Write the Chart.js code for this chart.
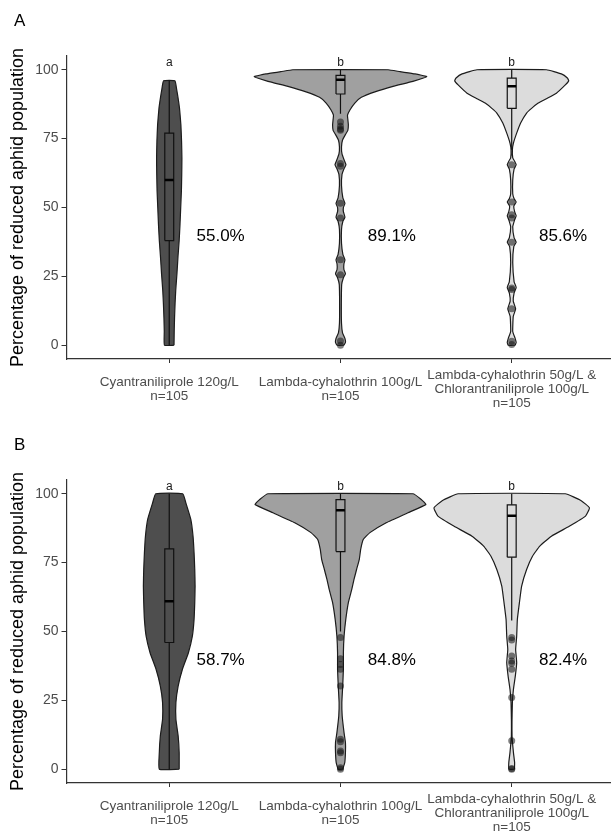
<!DOCTYPE html>
<html>
<head>
<meta charset="utf-8">
<script src="https://cdn.jsdelivr.net/npm/chart.js@4.4.0/dist/chart.umd.min.js"></script>
<style>
  html, body { margin: 0; padding: 0; background: #fff; overflow: hidden; }
  body { width: 614px; height: 832px; position: relative; }
  .panel { position: absolute; left: 0; width: 614px; height: 424px; }
</style>
</head>
<body>
<div class="panel" style="top:0"><canvas id="chartA" width="614" height="424"></canvas></div>
<div class="panel" style="top:424px"><canvas id="chartB" width="614" height="424"></canvas></div>
<script>
const FONT = "'Liberation Sans', Arial, Helvetica, sans-serif";

// categories + axis
const categoryLabels = [
  ['Cyantraniliprole 120g/L', 'n=105'],
  ['Lambda-cyhalothrin 100g/L', 'n=105'],
  ['Lambda-cyhalothrin 50g/L &', 'Chlorantraniliprole 100g/L', 'n=105']
];
const groupLetters = ['a', 'b', 'b'];
const yTickValues = [0, 25, 50, 75, 100];

// ---- panel A ----
// violin outline: y levels and half width (in category units)
const violinLevelsA = [
  [0, 5, 10, 15, 20, 26, 32, 38, 44, 50, 56, 62, 68, 74, 80, 86, 90, 93, 96],
  [0, 1, 2.5, 4.5, 8, 15, 22, 24.5, 26, 27.5, 29.5, 31, 33, 37, 42, 45, 46.5, 48.5, 50, 51.5, 53.5, 58, 62, 64, 65.5, 67, 69.5, 72, 74.5, 76.5, 78, 80, 82, 83.5, 85.5, 88, 90, 92, 94, 95.8, 97.5, 98.5, 99.3, 100],
  [0, 1, 2.5, 5, 10.5, 13.2, 16, 19, 21, 23, 30, 35.8, 37.4, 39, 43, 45.5, 47, 48.5, 50.5, 52, 53.2, 55, 60, 64, 65.5, 66.8, 68, 71, 73.4, 77, 80.7, 84.3, 86, 87.9, 89.5, 91.5, 94.5, 96, 97, 98.5, 100]
];
const violinWidthsA = [
  [0.028, 0.029, 0.031, 0.034, 0.038, 0.045, 0.051, 0.058, 0.063, 0.067, 0.071, 0.073, 0.074, 0.072, 0.068, 0.06, 0.051, 0.043, 0.033],
  [0.020, 0.029, 0.026, 0.012, 0.006, 0.005, 0.007, 0.017, 0.029, 0.020, 0.020, 0.026, 0.014, 0.006, 0.006, 0.014, 0.026, 0.017, 0.017, 0.026, 0.014, 0.006, 0.009, 0.020, 0.032, 0.023, 0.009, 0.006, 0.012, 0.029, 0.043, 0.046, 0.043, 0.041, 0.056, 0.085, 0.122, 0.201, 0.307, 0.423, 0.504, 0.435, 0.348, 0.278],
  [0.020, 0.026, 0.020, 0.006, 0.009, 0.023, 0.009, 0.014, 0.026, 0.014, 0.006, 0.012, 0.026, 0.014, 0.006, 0.017, 0.026, 0.017, 0.012, 0.026, 0.014, 0.006, 0.006, 0.014, 0.026, 0.017, 0.006, 0.004, 0.010, 0.029, 0.052, 0.087, 0.116, 0.155, 0.203, 0.261, 0.313, 0.333, 0.325, 0.29, 0.203]
];
const whiskerLowA = [0, 84, 71];
const q1A = [38, 91.2, 86];
const medianA = [60, 96.4, 94];
const q3A = [77, 98, 97];
const whiskerHighA = [96, 100, 100];
const outliersA = [
  [],
  [81, 79.5, 78.5, 78, 66, 65, 51.5, 46.2, 31, 25.6, 1.5, 0],
  [65.5, 52, 47.4, 46.2, 37.4, 20.8, 20.2, 13.2, 1.4, 0.3]
];
const percentA = ['55.0%', '89.1%', '85.6%'];

// ---- panel B ----
const violinLevelsB = [
  [0, 6.1, 12.1, 18.1, 24.2, 30.2, 36.3, 42.3, 48.3, 54.4, 60.5, 66.5, 72.5, 78.6, 84.6, 90.7, 96.7, 100],
  [0, 2.4, 6.1, 9.7, 13.2, 19.3, 24.2, 30.2, 36.3, 42.3, 48.3, 54.4, 60.5, 65.3, 68.9, 72.5, 76.2, 79.8, 83.4, 85.9, 89.5, 93.1, 96.1, 98, 100],
  [0, 2.4, 6.1, 12.1, 24.2, 29, 33.8, 38.7, 43.5, 48.3, 54.4, 60.5, 66.5, 72.5, 77.4, 81, 84.6, 88.2, 91.9, 94.9, 97.5, 100]
];
const violinWidthsB = [
  [0.058, 0.058, 0.052, 0.039, 0.039, 0.052, 0.077, 0.112, 0.135, 0.145, 0.149, 0.151, 0.149, 0.145, 0.139, 0.126, 0.097, 0.079],
  [0.013, 0.025, 0.029, 0.029, 0.021, 0.010, 0.008, 0.013, 0.017, 0.017, 0.021, 0.031, 0.046, 0.066, 0.079, 0.094, 0.110, 0.118, 0.133, 0.172, 0.267, 0.394, 0.499, 0.470, 0.423],
  [0.016, 0.017, 0.010, 0.002, 0.004, 0.010, 0.021, 0.029, 0.023, 0.029, 0.033, 0.045, 0.058, 0.087, 0.122, 0.164, 0.232, 0.336, 0.431, 0.454, 0.406, 0.313]
];
const whiskerLowB = [0, 50, 54];
const q1B = [46, 79, 77];
const medianB = [61, 94, 92];
const q3B = [80, 97.9, 96];
const whiskerHighB = [100, 100, 100];
const outliersB = [
  [],
  [47.8, 40.1, 38, 36.3, 30.2, 10.9, 10, 6.6, 6, 0.5, 0],
  [47.8, 46.9, 41.1, 39.3, 38.5, 36.3, 26, 10.3, 0.3, 0]
];
const percentB = ['58.7%', '84.8%', '82.4%'];

// styles
const fillColours = ['#4e4e4e', '#a0a0a0', '#dcdcdc'];
const outlineColour = '#1c1c1c';
const BOX_HALF = 0.026;
const LETTER_Y = 102.7;
const PCT_Y = 39.5;
const PCT_DX = 0.3;

function violinPolygon(pos, levels, widths) {
  const right = levels.map((y, i) => ({ x: pos + widths[i], y: y }));
  const left = levels.map((y, i) => ({ x: pos - widths[i], y: y })).reverse();
  return right.concat(left, [right[0]]);
}

function makeDatasets(p) {
  const sets = [];
  p.levels.forEach((levels, i) => {
    const pos = i + 1;
    sets.push({
      data: violinPolygon(pos, levels, p.widths[i]),
      showLine: true, fill: 'shape', tension: 0.12,
      backgroundColor: fillColours[i], borderColor: outlineColour, borderWidth: 1.2,
      pointRadius: 0, order: 5
    });
    // whisker
    sets.push({
      data: [{ x: pos, y: p.low[i] }, { x: pos, y: p.high[i] }],
      showLine: true, fill: false, borderColor: '#111', borderWidth: 1.2,
      pointRadius: 0, order: 4
    });
    // box
    sets.push({
      data: [
        { x: pos - BOX_HALF, y: p.q1[i] }, { x: pos + BOX_HALF, y: p.q1[i] },
        { x: pos + BOX_HALF, y: p.q3[i] }, { x: pos - BOX_HALF, y: p.q3[i] },
        { x: pos - BOX_HALF, y: p.q1[i] }
      ],
      showLine: true, fill: 'shape', tension: 0,
      backgroundColor: fillColours[i], borderColor: '#111', borderWidth: 1.2,
      pointRadius: 0, order: 3
    });
    // median
    sets.push({
      data: [{ x: pos - BOX_HALF, y: p.med[i] }, { x: pos + BOX_HALF, y: p.med[i] }],
      showLine: true, fill: false, borderColor: '#000', borderWidth: 2.4,
      pointRadius: 0, order: 2
    });
    // outliers
    sets.push({
      data: p.outliers[i].map(v => ({ x: pos, y: v })),
      showLine: false, pointRadius: 3.5, pointBorderWidth: 0,
      pointBackgroundColor: 'rgba(20,20,20,0.55)', order: 1
    });
  });
  return sets;
}

function annotations(percents, panelLetter) {
  return {
    id: 'annotations',
    afterDatasetsDraw(chart) {
      const { ctx } = chart;
      const x = chart.scales.x, y = chart.scales.y;
      ctx.save();
      ctx.textAlign = 'center';
      ctx.textBaseline = 'middle';
      ctx.fillStyle = '#1a1a1a';
      ctx.font = '12px ' + FONT;
      groupLetters.forEach((t, i) => {
        ctx.fillText(t, x.getPixelForValue(i + 1), y.getPixelForValue(LETTER_Y));
      });
      ctx.fillStyle = '#000';
      ctx.font = '17px ' + FONT;
      percents.forEach((t, i) => {
        ctx.fillText(t, x.getPixelForValue(i + 1 + PCT_DX), y.getPixelForValue(PCT_Y));
      });
      ctx.textAlign = 'left';
      ctx.fillText(panelLetter, 14, 21);
      ctx.restore();
    }
  };
}

function makeChart(id, p, percents, panelLetter) {
  return new Chart(document.getElementById(id), {
    type: 'scatter',
    data: { datasets: makeDatasets(p) },
    options: {
      responsive: false,
      animation: false,
      events: [],
      layout: { padding: { top: 56, left: 0, right: 0, bottom: 0 } },
      plugins: { legend: { display: false }, tooltip: { enabled: false } },
      scales: {
        x: {
          type: 'linear', min: 0.4, max: 3.574,
          afterBuildTicks: s => { s.ticks = categoryLabels.map((c, i) => ({ value: i + 1 })); },
          afterFit: s => { s.height = 65; },
          ticks: {
            autoSkip: false, maxRotation: 0, crossAlign: 'center', padding: 12,
            color: '#4d4d4d', font: { family: FONT, size: 13.5, lineHeight: 1.05 },
            callback: v => categoryLabels[Math.round(v) - 1]
          },
          grid: { display: true, drawOnChartArea: false, drawTicks: true, tickLength: 4, color: '#333' },
          border: { display: true, color: '#333', width: 1.2 }
        },
        y: {
          type: 'linear', min: -5, max: 105,
          afterBuildTicks: s => { s.ticks = yTickValues.map(v => ({ value: v })); },
          afterFit: s => { s.width = 66.5; },
          ticks: { padding: 3, color: '#4d4d4d', font: { family: FONT, size: 14 } },
          grid: { display: true, drawOnChartArea: false, drawTicks: true, tickLength: 5, color: '#333' },
          border: { display: true, color: '#333', width: 1.2 },
          title: {
            display: true, text: 'Percentage of reduced aphid population',
            color: '#000', font: { family: FONT, size: 18 }, padding: { top: 7, bottom: 0 }
          }
        }
      }
    },
    plugins: [annotations(percents, panelLetter)]
  });
}

makeChart('chartA', {
  levels: violinLevelsA, widths: violinWidthsA,
  low: whiskerLowA, q1: q1A, med: medianA, q3: q3A, high: whiskerHighA, outliers: outliersA
}, percentA, 'A');

makeChart('chartB', {
  levels: violinLevelsB, widths: violinWidthsB,
  low: whiskerLowB, q1: q1B, med: medianB, q3: q3B, high: whiskerHighB, outliers: outliersB
}, percentB, 'B');
</script>
</body>
</html>
